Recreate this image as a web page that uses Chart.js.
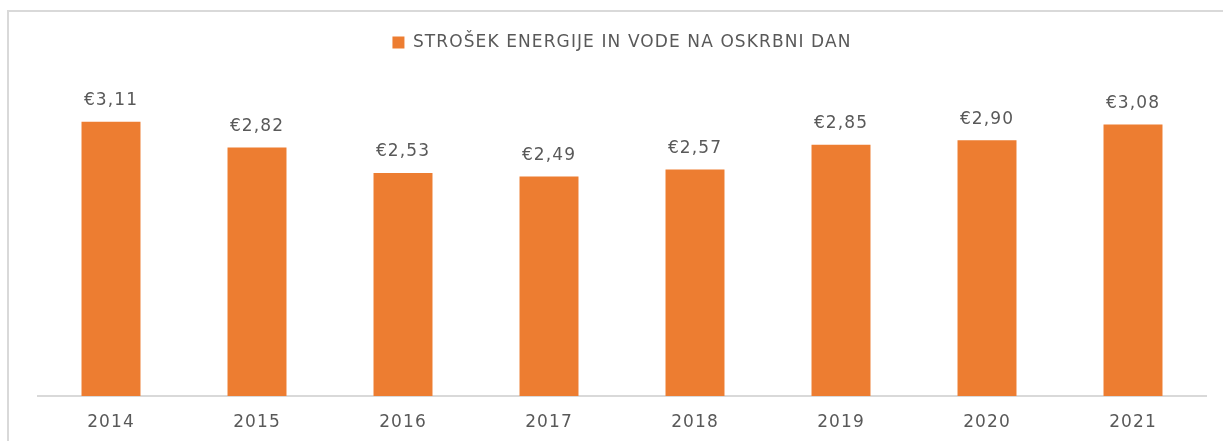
<!DOCTYPE html>
<html>
<head>
<meta charset="utf-8">
<script src="https://cdn.jsdelivr.net/npm/chart.js@4"></script>
<style>
  html, body { margin: 0; padding: 0; background: #fff; overflow: hidden; }
  #wrap { position: absolute; left: 0; top: 0; width: 1223px; height: 441px; }
</style>
</head>
<body>
<div id="wrap"><canvas id="chart"></canvas></div>
<script>
const years = ["2014", "2015", "2016", "2017", "2018", "2019", "2020", "2021"];
const costPerDay = [3.11, 2.82, 2.53, 2.49, 2.57, 2.85, 2.90, 3.08];
const seriesName = "STROŠEK ENERGIJE IN VODE NA OSKRBNI DAN";

const orange = "#ED7D31";
const textGrey = "#595959";
const lineGrey = "#d9d9d9";
const fontFamily = "'DejaVu Sans', sans-serif";
const letterGap = "1.1px";

const eur = v => "€" + v.toFixed(2).replace(".", ",");

// the original text is wide, so open the letters up a bit
const spacing = {
  id: "spacing",
  beforeUpdate(chart) { chart.ctx.letterSpacing = letterGap; },
  beforeDraw(chart) { chart.ctx.letterSpacing = letterGap; }
};

// left and top edge of the chart frame
const frame = {
  id: "frame",
  beforeDraw(chart) {
    const ctx = chart.ctx;
    ctx.save();
    ctx.strokeStyle = lineGrey;
    ctx.lineWidth = 2;
    ctx.beginPath();
    ctx.moveTo(8, chart.height);
    ctx.lineTo(8, 11);
    ctx.lineTo(chart.width, 11);
    ctx.stroke();
    ctx.restore();
  }
};

// draws the value above each bar
const valueLabels = {
  id: "valueLabels",
  afterDatasetsDraw(chart) {
    const ctx = chart.ctx;
    const meta = chart.getDatasetMeta(0);
    ctx.save();
    ctx.font = "17px " + fontFamily;
    ctx.fillStyle = textGrey;
    ctx.textAlign = "center";
    ctx.textBaseline = "middle";
    meta.data.forEach((bar, i) => {
      ctx.fillText(eur(costPerDay[i]), bar.x, bar.y - 21);
    });
    ctx.restore();
  }
};

new Chart(document.getElementById("chart"), {
  type: "bar",
  data: {
    labels: years,
    datasets: [{
      label: seriesName,
      data: costPerDay,
      backgroundColor: orange,
      barPercentage: 0.404,
      categoryPercentage: 1
    }]
  },
  options: {
    responsive: true,
    maintainAspectRatio: false,
    animation: false,
    layout: { padding: { left: 38, right: 17, top: 24, bottom: 0 } },
    plugins: {
      legend: {
        position: "top",
        labels: {
          color: textGrey,
          font: { family: fontFamily, size: 17 },
          boxWidth: 12,
          boxHeight: 12,
          padding: 10
        }
      },
      tooltip: { enabled: false }
    },
    scales: {
      x: {
        grid: { display: false },
        border: { display: true, color: lineGrey, width: 2 },
        ticks: { color: textGrey, font: { family: fontFamily, size: 17 }, padding: 8 },
        afterFit(scale) { scale.height = 45; }
      },
      y: {
        display: false,
        min: 0,
        max: 3.8
      }
    }
  },
  plugins: [spacing, frame, valueLabels]
});
</script>
</body>
</html>
